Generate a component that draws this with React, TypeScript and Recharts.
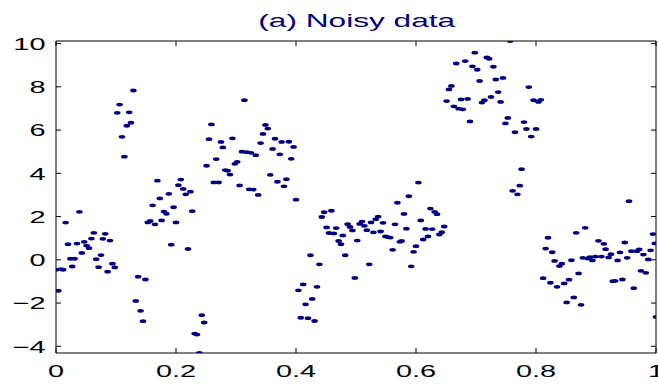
import React from 'react';
import { ScatterChart, Scatter, XAxis, YAxis } from 'recharts';

const xValues = [
  0, 0.004, 0.008, 0.012, 0.016, 0.020, 0.024, 0.027, 0.031, 0.035, 0.039, 0.043, 0.047,
  0.051, 0.055, 0.059, 0.063, 0.067, 0.071, 0.075, 0.078, 0.082, 0.086, 0.090, 0.094, 0.098,
  0.102, 0.106, 0.110, 0.114, 0.118, 0.122, 0.125, 0.129, 0.133, 0.137, 0.141, 0.145, 0.149,
  0.153, 0.157, 0.161, 0.165, 0.169, 0.173, 0.176, 0.180, 0.184, 0.188, 0.192, 0.196, 0.200,
  0.204, 0.208, 0.212, 0.216, 0.220, 0.224, 0.227, 0.231, 0.235, 0.239, 0.243, 0.247, 0.251,
  0.255, 0.259, 0.263, 0.267, 0.271, 0.275, 0.278, 0.282, 0.286, 0.290, 0.294, 0.298, 0.302,
  0.306, 0.310, 0.314, 0.318, 0.322, 0.325, 0.329, 0.333, 0.337, 0.341, 0.345, 0.349, 0.353,
  0.357, 0.361, 0.365, 0.369, 0.373, 0.376, 0.380, 0.384, 0.388, 0.392, 0.396, 0.400, 0.404,
  0.408, 0.412, 0.416, 0.420, 0.424, 0.427, 0.431, 0.435, 0.439, 0.443, 0.447, 0.451, 0.455,
  0.459, 0.463, 0.467, 0.471, 0.475, 0.478, 0.482, 0.486, 0.490, 0.494, 0.498, 0.502, 0.506,
  0.510, 0.514, 0.518, 0.522, 0.525, 0.529, 0.533, 0.537, 0.541, 0.545, 0.549, 0.553, 0.557,
  0.561, 0.565, 0.569, 0.573, 0.576, 0.580, 0.584, 0.588, 0.592, 0.596, 0.600, 0.604, 0.608,
  0.612, 0.616, 0.620, 0.624, 0.627, 0.631, 0.635, 0.639, 0.643, 0.647, 0.651, 0.655, 0.659,
  0.663, 0.667, 0.671, 0.675, 0.678, 0.682, 0.686, 0.690, 0.694, 0.698, 0.702, 0.706, 0.710,
  0.714, 0.718, 0.722, 0.725, 0.729, 0.733, 0.737, 0.741, 0.745, 0.749, 0.753, 0.757, 0.761,
  0.765, 0.769, 0.773, 0.776, 0.780, 0.784, 0.788, 0.792, 0.796, 0.800, 0.804, 0.808, 0.812,
  0.816, 0.820, 0.824, 0.827, 0.831, 0.835, 0.839, 0.843, 0.847, 0.851, 0.855, 0.859, 0.863,
  0.867, 0.871, 0.875, 0.878, 0.882, 0.886, 0.890, 0.894, 0.899, 0.904, 0.909, 0.913, 0.916,
  0.921, 0.925, 0.928, 0.932, 0.936, 0.940, 0.944, 0.948, 0.952, 0.955, 0.959, 0.963, 0.968,
  0.972, 0.975, 0.979, 0.983, 0.987, 0.991, 0.995, 0.998, 1.000,
];

const yValues = [
  -0.46, -1.43, -0.43, -0.46, 1.72, 0.72, 0.05, -0.31, 0.05, 0.75, 2.22, 0.32, 0.83,
  0.66, 0.54, 0.98, 1.25, 0.03, -0.34, 0.22, 0.97, 1.2, -0.55, 0.89, -0.18, -0.35,
  6.8, 7.18, 5.69, 4.77, 6.2, 6.82, 6.34, 7.83, -1.9, -0.78, -2.36, -2.84, -0.91,
  1.73, 1.8, 2.52, 1.64, 3.66, 2.84, 1.82, 2.23, 2.13, 3.05, 0.7, 2.43, 1.73,
  3.45, 3.71, 3.28, 3.03, 0.5, 3.15, 2.25, -3.41, -3.46, -4.3, -2.56, -2.9, 4.35,
  5.58, 6.26, 3.58, 4.66, 3.58, 5.45, 5.2, 4.15, 4.12, 3.94, 5.62, 4.44, 4.53,
  3.44, 5.0, 7.38, 4.98, 3.26, 4.95, 3.25, 4.84, 3.0, 5.4, 5.82, 6.24, 6.07,
  3.93, 5.13, 5.6, 3.61, 4.88, 5.45, 3.4, 3.73, 5.46, 4.67, 5.22, 2.78, -1.41,
  -2.68, -1.14, -2.06, -2.7, 0.21, -1.81, -2.83, -1.25, -0.21, 1.98, 2.2, 1.5, 1.24,
  2.27, 1.22, 1.47, 0.87, 0.72, 1.13, 0.21, 1.65, 1.52, 1.36, -0.84, 0.89, 1.66,
  1.77, 1.57, 1.37, -0.21, 1.73, 1.27, 1.88, 2.0, 1.31, 1.71, 1.08, 1.05, 1.03,
  0.46, 1.64, 2.64, 0.83, 0.87, 2.12, 1.44, 2.94, -0.3, 0.37, 0.63, 3.57, 1.82,
  0.94, 1.43, 1.08, 2.37, 1.42, 2.22, 2.11, 1.17, 1.28, 1.54, 7.34, 7.88, 8.04,
  7.1, 9.08, 6.99, 7.42, 6.96, 9.19, 7.44, 6.4, 8.95, 9.58, 8.79, 8.27, 7.27,
  7.38, 9.36, 9.3, 7.53, 8.93, 8.34, 7.76, 7.3, 8.41, 6.31, 6.56, 10.12, 3.19,
  5.9, 3.03, 3.43, 4.19, 6.37, 6.05, 7.99, 5.7, 7.38, 6.05, 7.3, 7.4, -0.85,
  0.52, 1.02, -1.06, 0.35, -0.05, -1.25, -0.29, -0.18, -1.09, -1.97, -0.92, -0.02, -1.74,
  1.25, -0.63, -2.08, 0.09, 1.48, 0.06, 0.12, -0.03, 0.15, 0.88, 0.15, 0.74, 0.49,
  0.11, 0.26, -0.99, -0.97, -0.03, 0.34, -0.91, 0.8, 0.09, 2.71, 0.4, -1.31, 0.4,
  0.48, -0.51, 0.24, -0.6, 0.02, 0.44, 1.19, 0.76, -2.64,
];

const xTicks = [0, 0.2, 0.4, 0.6, 0.8, 1];
const xTickLabels = ['0', '0.2', '0.4', '0.6', '0.8', '1'];
const yTicks = [-4, -2, 0, 2, 4, 6, 8, 10];
const yTickLabels = ['\u22124', '\u22122', '0', '2', '4', '6', '8', '10'];
const xDomain = [0, 1];
const yDomain = [-4.31, 10.12];
const titleText = '(a) Noisy data';

const FONT = '"Liberation Sans", Arial, Helvetica, sans-serif';
const STRETCH = 1.7;
const TICK_LEN = 5;
const DOT_COLOR = '#000080';

const points = xValues.map((x, i) => ({ x, y: yValues[i] }));

const labelFor = (ticks: number[], labels: string[], v: number) => {
  const idx = ticks.findIndex((t) => Math.abs(t - v) < 1e-9);
  return idx >= 0 ? labels[idx] : String(v);
};

const BottomTick = (props: any) => {
  const { x, y, payload } = props;
  return (
    <g>
      <line x1={x} x2={x} y1={y} y2={y - TICK_LEN} stroke="#000" strokeWidth={1} />
      <text
        transform={`translate(${x},${y + 23.5}) scale(${STRETCH},1)`}
        textAnchor="middle"
        fontSize={17}
        fontFamily={FONT}
        fill="#000"
      >
        {labelFor(xTicks, xTickLabels, payload.value)}
      </text>
    </g>
  );
};

const TopTick = (props: any) => {
  const { x, y } = props;
  return <line x1={x} x2={x} y1={y} y2={y + TICK_LEN} stroke="#000" strokeWidth={1} />;
};

const LeftTick = (props: any) => {
  const { x, y, payload } = props;
  return (
    <g>
      <line x1={x} x2={x + TICK_LEN} y1={y} y2={y} stroke="#000" strokeWidth={1} />
      <text
        transform={`translate(${x - 10.5},${y + 6.3}) scale(${STRETCH},1)`}
        textAnchor="end"
        fontSize={17}
        fontFamily={FONT}
        fill="#000"
      >
        {labelFor(yTicks, yTickLabels, payload.value)}
      </text>
    </g>
  );
};

const RightTick = (props: any) => {
  const { x, y } = props;
  return <line x1={x} x2={x - TICK_LEN} y1={y} y2={y} stroke="#000" strokeWidth={1} />;
};

const Dot = (props: any) => {
  const { cx, cy } = props;
  if (cx == null || cy == null) return null;
  return <ellipse cx={cx} cy={cy} rx={3.3} ry={1.9} fill={DOT_COLOR} />;
};

export default function App() {
  return (
    <div style={{ position: 'absolute', left: 0, top: 0, width: 658, height: 384, background: '#fff' }}>
      <ScatterChart
        width={658}
        height={384}
        margin={{ top: 40, right: 1, bottom: 30, left: 55 }}
      >
        <XAxis
          xAxisId="bottom"
          type="number"
          dataKey="x"
          domain={xDomain}
          ticks={xTicks}
          interval={0}
          allowDataOverflow
          orientation="bottom"
          height={1}
          tickSize={0}
          tickMargin={0}
          tickLine={false}
          axisLine={{ stroke: '#000', strokeWidth: 1 }}
          tick={<BottomTick />}
        />
        <XAxis
          xAxisId="top"
          type="number"
          dataKey="x"
          domain={xDomain}
          ticks={xTicks}
          interval={0}
          allowDataOverflow
          orientation="top"
          height={1}
          tickSize={0}
          tickMargin={0}
          tickLine={false}
          axisLine={{ stroke: '#000', strokeWidth: 1 }}
          tick={<TopTick />}
        />
        <YAxis
          yAxisId="left"
          type="number"
          dataKey="y"
          domain={yDomain}
          ticks={yTicks}
          interval={0}
          allowDataOverflow
          orientation="left"
          width={1}
          tickSize={0}
          tickMargin={0}
          tickLine={false}
          axisLine={{ stroke: '#000', strokeWidth: 1 }}
          tick={<LeftTick />}
        />
        <YAxis
          yAxisId="right"
          type="number"
          dataKey="y"
          domain={yDomain}
          ticks={yTicks}
          interval={0}
          allowDataOverflow
          orientation="right"
          width={1}
          tickSize={0}
          tickMargin={0}
          tickLine={false}
          axisLine={{ stroke: '#000', strokeWidth: 1 }}
          tick={<RightTick />}
        />
        <Scatter
          xAxisId="bottom"
          yAxisId="left"
          data={points}
          shape={<Dot />}
          isAnimationActive={false}
        />
      </ScatterChart>
      <svg
        width={658}
        height={40}
        style={{ position: 'absolute', left: 0, top: 0, pointerEvents: 'none' }}
      >
        <text
          transform={`translate(356.7,26.7) scale(${STRETCH},1)`}
          textAnchor="middle"
          fontSize={18.6}
          fontFamily={FONT}
          fill={DOT_COLOR}
        >
          {titleText}
        </text>
      </svg>
    </div>
  );
}
